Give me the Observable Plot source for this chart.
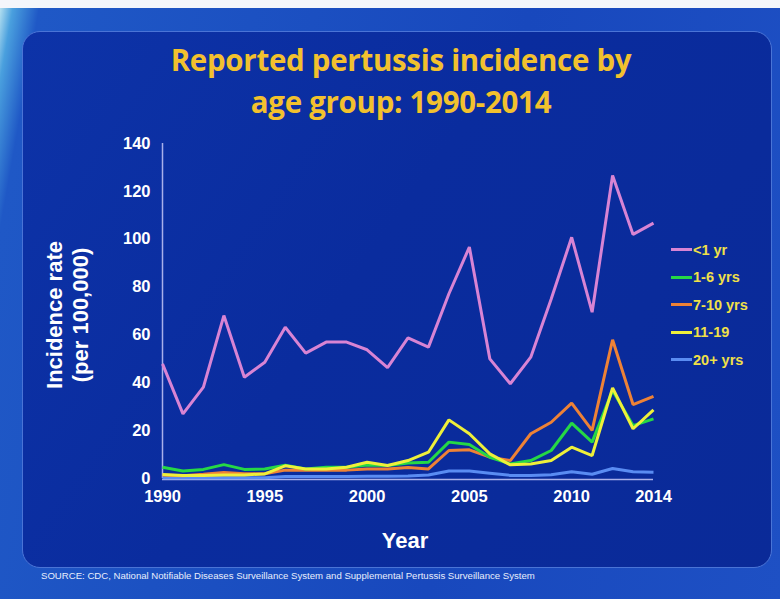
<!DOCTYPE html>
<html>
<head>
<meta charset="utf-8">
<script src="https://cdn.jsdelivr.net/npm/d3@7"></script>
<script src="https://cdn.jsdelivr.net/npm/@observablehq/plot@0.6"></script>
<style>
  html, body { margin: 0; padding: 0; width: 780px; height: 599px; overflow: hidden; }
  #slide {
    position: relative; width: 780px; height: 599px; overflow: hidden;
    background: linear-gradient(100deg, #bfe6f2 0px, #4aa0de 14px, #1f58c6 40px, #1848bd 60%, #1e50c4 100%);
  }
  #topstrip { position: absolute; left: 0; top: 0; width: 780px; height: 8px; background: #f4f6fb; }
  #panel {
    position: absolute; left: 22px; top: 31px; width: 748px; height: 535px;
    border-radius: 18px; border: 1.5px solid #4a74d6;
    background: linear-gradient(125deg, #0d33a8 0%, #0a2c9e 45%, #0a2a98 100%);
  }
  .title {
    position: absolute; left: 11px; width: 780px; text-align: center;
    font-family: "Open Sans", Lato, sans-serif; font-weight: 700; font-size: 29.5px;
    color: #f2c12e; letter-spacing: -0.3px;
  }
  .ytitle {
    position: absolute; font-family: "Liberation Sans", Arial, sans-serif; font-weight: 700;
    font-size: 22px; color: #ffffff; white-space: nowrap; text-align: center;
    transform: rotate(-90deg); transform-origin: center center;
  }
  #xtitle {
    position: absolute; left: 355px; top: 528px; width: 100px; text-align: center;
    font-family: "Liberation Sans", Arial, sans-serif; font-weight: 700; font-size: 22px; color: #fff;
  }
  #legend { position: absolute; left: 671px; top: 236px; }
  .li { height: 27.5px; display: flex; align-items: center; }
  .sw { width: 21px; height: 3px; margin-right: 1px; }
  .lt { font-family: "Liberation Sans", Arial, sans-serif; font-weight: 700; font-size: 14.5px; color: #f0e048; }
  #source {
    position: absolute; left: 41px; top: 570px; font-family: "Liberation Sans", Arial, sans-serif;
    font-size: 9.6px; color: #e8eefc; white-space: nowrap;
  }
  #chart { position: absolute; left: 0; top: 0; }
</style>
</head>
<body>
<div id="slide">
  <div id="topstrip"></div>
  <div id="panel"></div>
  <div class="title" style="top:39px;">Reported pertussis incidence by</div>
  <div class="title" style="top:81px;">age group: 1990-2014</div>
  <div class="ytitle" style="left:-20px; top:302px; width:150px;">Incidence rate</div>
  <div class="ytitle" style="left:6px; top:302px; width:150px;">(per 100,000)</div>
  <div id="xtitle">Year</div>
  <div id="legend"></div>
  <div id="source">SOURCE: CDC, National Notifiable Diseases Surveillance System and Supplemental Pertussis Surveillance System</div>
  <div id="chart"></div>
</div>
<script>
const years = [1990,1991,1992,1993,1994,1995,1996,1997,1998,1999,2000,2001,2002,2003,2004,2005,2006,2007,2008,2009,2010,2011,2012,2013,2014];
const seriesNames = ["<1 yr", "1-6 yrs", "7-10 yrs", "11-19", "20+ yrs"];
const seriesColors = ["#d884d4", "#26d845", "#ee8236", "#eef03a", "#5a8cf2"];
const under1 = [47.9,27.0,38.2,68.1,42.3,48.6,63.2,52.4,57.0,57.0,53.8,46.3,58.8,54.9,77.2,96.7,50.0,39.6,50.7,75.0,100.8,69.5,126.6,102.0,106.7];
const age1to6 = [4.7,3.1,3.8,5.8,3.8,4.0,5.6,4.0,4.7,4.7,5.6,5.4,6.5,6.8,15.2,14.2,8.9,6.1,7.5,11.7,23.1,15.2,36.8,22.1,24.9];
const age7to10 = [1.5,1.2,1.8,2.5,2.0,2.0,3.5,3.5,3.5,3.5,4.0,4.0,4.6,4.0,11.7,12.0,8.9,7.5,18.7,23.5,31.5,20.1,58.0,30.9,34.3];
const age11to19 = [1.7,1.3,1.3,1.5,1.5,1.9,5.3,4.0,4.0,4.7,6.8,5.4,7.5,11.0,24.5,18.7,10.3,5.7,6.1,7.5,13.1,9.6,37.9,20.8,28.7];
const age20plus = [0.3,0.3,0.3,0.3,0.3,0.3,0.8,0.8,0.8,0.8,0.9,0.9,1.0,1.5,3.1,3.1,2.2,1.3,1.3,1.6,2.8,1.8,4.2,2.8,2.6];
const xTicks = [1990,1995,2000,2005,2010,2014];
const yTicks = [0,20,40,60,80,100,120,140];

const valuesBySeries = [under1, age1to6, age7to10, age11to19, age20plus];
const drawOrder = [4, 2, 1, 3, 0];
const rows = [];
for (const s of drawOrder) {
  years.forEach((yr, i) => rows.push({year: yr, value: valuesBySeries[s][i], series: seriesNames[s]}));
}

const chart = Plot.plot({
  width: 780, height: 599,
  marginLeft: 162, marginRight: 127, marginTop: 143, marginBottom: 121,
  style: { background: "transparent", fontFamily: "Liberation Sans, Arial, sans-serif", fontSize: "16.5px", fontWeight: "700", color: "#ffffff" },
  x: { domain: [1990, 2014], ticks: xTicks, tickFormat: "d", tickSize: 0, tickPadding: 12, label: null },
  y: { domain: [0, 140], ticks: yTicks, tickSize: 0, tickPadding: 12, label: null },
  color: { domain: seriesNames, range: seriesColors },
  marks: [
    Plot.ruleX([1990], { stroke: "#a9b0ea", strokeWidth: 1.5 }),
    Plot.ruleY([0], { stroke: "#a9b0ea", strokeWidth: 1.5, dy: 1 }),
    Plot.line(rows, { x: "year", y: "value", z: "series", stroke: "series", strokeWidth: 3, strokeLinejoin: "miter", strokeLinecap: "butt" })
  ]
});
document.getElementById("chart").appendChild(chart);

const legend = document.getElementById("legend");
seriesNames.forEach((name, i) => {
  const row = document.createElement("div"); row.className = "li";
  const sw = document.createElement("div"); sw.className = "sw"; sw.style.background = seriesColors[i];
  const lt = document.createElement("div"); lt.className = "lt"; lt.textContent = name;
  row.appendChild(sw); row.appendChild(lt); legend.appendChild(row);
});
</script>
</body>
</html>
